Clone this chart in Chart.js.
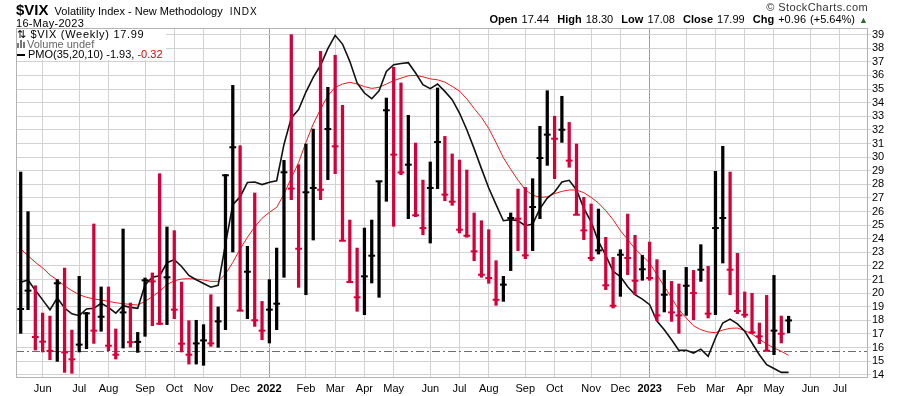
<!DOCTYPE html>
<html>
<head>
<meta charset="utf-8">
<script src="https://cdn.jsdelivr.net/npm/chart.js@4.4.0/dist/chart.umd.min.js"></script>
<style>
  html, body { margin: 0; padding: 0; background: #fff; }
  #wrap { position: relative; width: 900px; height: 396px; font-family: Arial, "Liberation Sans", sans-serif; color: #000; }
  #c { position: absolute; left: 0; top: 0; }
  .abs { position: absolute; white-space: nowrap; }
  #sym { left: 16px; top: 1px; font-size: 11px; }
  #sym b { font-size: 15px; margin-right: 3px; }
  #sym .ex { font-size: 10px; letter-spacing: 1px; margin-left: 4px; }
  #date { left: 16px; top: 17px; font-size: 11px; letter-spacing: 0.3px; }
  #copy { right: 32px; top: 1px; font-size: 11px; color: #333; letter-spacing: 0.4px; }
  #ohlc { right: 32px; top: 13px; font-size: 11px; word-spacing: 1px; }
  #ohlc .up { color: #2e6b2e; font-size: 9px; }
  #leg { left: 17px; top: 29px; font-size: 11px; background: #fff; padding: 0 3px 1px 0; }
  #leg div { line-height: 10px; height: 10px; }
  #leg1 { letter-spacing: 0.7px; }
  #leg2 { color: #666; }
  .vol { display: inline-block; width: 9px; height: 8px; position: relative; margin-right: 1px; }
  .vol i { position: absolute; bottom: 0; width: 2px; background: #777; }
  .dash { display: inline-block; width: 8px; height: 2px; background: #000; vertical-align: middle; margin-right: 3px; }
</style>
</head>
<body>
<div id="wrap">
  <canvas id="c" width="900" height="396"></canvas>
  <div class="abs" id="sym"><b>$VIX</b> Volatility Index - New Methodology <span class="ex">INDX</span></div>
  <div class="abs" id="date">16-May-2023</div>
  <div class="abs" id="copy">© StockCharts.com</div>
  <div class="abs" id="ohlc"><b>Open</b> 17.44 &nbsp;<b>High</b> 18.30 &nbsp;<b>Low</b> 17.08 &nbsp;<b>Close</b> 17.99 &nbsp;<b>Chg</b> +0.96 (+5.64%) <span class="up">▲</span></div>
  <div class="abs" id="leg">
    <div id="leg1">⇅ $VIX (Weekly) 17.99</div>
    <div id="leg2"><span class="vol"><i style="left:0;height:5px"></i><i style="left:3px;height:8px"></i><i style="left:6px;height:6px"></i></span>Volume undef</div>
    <div id="leg3"><span class="dash"></span>PMO(35,20,10) -1.93, <span style="color:#e00000">-0.32</span></div>
  </div>
</div>
<script>
// weekly bars, May 10 2021 .. May 15 2023 (index = week number)
const highs = [28.90, 25.99, 20.54, 18.53, 18.31, 20.99, 21.84, 17.28, 21.23, 18.58,
  25.08, 20.45, 20.45, 17.36, 24.71, 19.27, 17.11, 21.11, 21.48, 28.78,
  24.86, 24.59, 20.81, 17.97, 18.00, 17.68, 19.88, 18.98, 28.71, 35.27,
  30.84, 23.44, 27.36, 19.39, 20.99, 23.31, 29.76, 39.00, 29.44, 30.96,
  32.06, 37.77, 35.13, 37.48, 33.80, 25.37, 23.31, 24.78, 25.37, 28.22,
  34.34, 36.60, 35.45, 33.07, 31.03, 28.31, 29.64, 35.08, 31.52, 30.23,
  29.78, 29.05, 25.89, 25.32, 24.66, 22.38, 21.23, 25.89, 27.65, 27.77,
  28.41, 32.26, 34.88, 33.00, 34.47, 32.55, 30.96, 27.04, 26.55, 26.18,
  24.10, 22.63, 23.19, 25.81, 24.25, 22.77, 23.75, 22.46, 21.67, 20.86,
  20.67, 21.89, 21.67, 23.56, 21.97, 28.95, 30.79, 28.90, 22.92, 20.08,
  19.98, 17.80, 19.83, 21.30, 18.31, 18.30];
const lows = [17.04, 18.78, 15.81, 15.67, 15.10, 14.98, 14.17, 14.10, 15.67, 15.91,
  16.30, 17.19, 15.76, 15.15, 15.96, 16.03, 15.64, 16.82, 17.60, 17.68,
  17.68, 18.12, 15.67, 14.78, 14.78, 14.69, 16.08, 16.01, 17.31, 23.02,
  18.71, 18.12, 17.55, 16.57, 16.33, 17.31, 21.16, 26.87, 20.42, 19.88,
  23.90, 26.87, 28.34, 28.78, 23.85, 20.81, 18.66, 18.41, 20.74, 19.69,
  26.75, 24.91, 28.70, 25.47, 25.62, 24.29, 23.68, 27.68, 26.79, 26.45,
  24.42, 24.10, 22.38, 21.16, 20.72, 19.10, 19.39, 21.65, 23.12, 22.53,
  23.12, 25.47, 29.39, 28.41, 31.08, 29.25, 25.76, 23.93, 22.38, 22.87,
  20.25, 18.90, 19.76, 21.35, 19.88, 20.94, 20.94, 17.97, 18.61, 17.92,
  17.04, 18.36, 18.04, 20.86, 18.17, 18.41, 22.21, 19.88, 18.49, 18.22,
  17.01, 16.28, 15.76, 15.47, 16.33, 17.08];
const closes = [18.83, 20.18, 16.77, 16.43, 15.74, 20.72, 15.64, 15.13, 16.21, 18.51,
  17.24, 18.26, 16.13, 15.47, 18.58, 16.39, 16.41, 20.94, 20.86, 17.75,
  21.16, 18.78, 16.28, 15.47, 16.30, 16.52, 16.30, 17.92, 28.66, 30.72,
  18.71, 21.57, 18.00, 17.24, 18.78, 19.22, 28.88, 27.68, 23.26, 27.41,
  27.73, 27.60, 32.06, 30.79, 23.85, 20.81, 19.69, 21.23, 22.75, 28.22,
  33.44, 30.18, 28.87, 29.44, 25.72, 24.78, 27.73, 31.11, 27.24, 26.72,
  24.66, 24.22, 23.07, 21.35, 21.11, 19.51, 20.62, 25.52, 25.47, 22.77,
  26.33, 29.93, 31.65, 31.35, 32.01, 29.74, 25.76, 24.61, 22.58, 23.14,
  20.57, 19.07, 22.82, 22.58, 20.91, 21.75, 21.11, 18.36, 19.88, 18.58,
  18.36, 20.54, 20.00, 21.72, 18.49, 24.78, 25.52, 21.72, 18.68, 18.41,
  17.11, 16.82, 15.76, 17.24, 17.01, 17.99];

// PMO and its signal line in price units (overlay)
const pmo = [20.80, 20.96, 20.20, 19.50, 18.77, 19.64, 18.90, 18.48, 18.34, 18.83,
  18.88, 19.25, 18.95, 18.53, 19.07, 18.95, 18.88, 20.60, 21.17, 21.28,
  22.23, 22.46, 21.96, 21.30, 20.98, 20.70, 20.43, 20.57, 23.60, 26.50,
  27.07, 28.13, 28.17, 27.98, 28.15, 28.26, 30.93, 32.88, 33.50, 34.78,
  35.86, 36.75, 37.97, 38.95, 38.31, 37.04, 35.45, 34.71, 34.29, 34.88,
  36.30, 36.79, 36.88, 36.94, 36.18, 35.32, 35.03, 35.37, 34.83, 34.22,
  33.24, 32.01, 30.62, 29.15, 27.73, 26.50, 25.32, 25.40, 25.32, 24.95,
  25.08, 26.21, 26.99, 27.43, 28.17, 28.29, 27.58, 26.23, 25.23, 23.80,
  22.77, 21.60, 21.21, 20.47, 19.88, 19.56, 19.15, 17.95, 17.31, 16.57,
  15.79, 15.79, 15.59, 15.88, 15.35, 16.70, 17.80, 18.09, 17.73, 17.19,
  16.33, 15.47, 14.74, 14.45, 14.17, 14.17];
const signal = [23.24, 22.75, 22.26, 21.85, 21.33, 20.96, 20.54, 20.18, 19.88, 19.69,
  19.57, 19.49, 19.39, 19.29, 19.22, 19.17, 19.12, 19.39, 19.74, 20.13,
  20.62, 20.91, 21.03, 21.06, 21.03, 20.96, 20.86, 20.86, 21.40, 22.26,
  23.24, 24.10, 24.86, 25.50, 25.94, 26.30, 27.28, 28.45, 29.60, 31.08,
  32.43, 33.53, 34.51, 35.13, 35.37, 35.50, 35.37, 35.18, 35.05, 35.13,
  35.37, 35.62, 35.80, 35.98, 36.00, 35.90, 35.75, 35.68, 35.51, 35.20,
  34.85, 34.28, 33.57, 32.92, 32.10, 31.06, 29.95, 29.10, 28.30, 27.60,
  27.20, 27.04, 27.08, 27.31, 27.48, 27.58, 27.58, 27.38, 27.04, 26.62,
  26.06, 25.40, 24.59, 23.93, 23.26, 22.73, 22.21, 21.35, 20.50, 19.64,
  18.78, 18.17, 17.60, 17.31, 17.14, 17.09, 17.28, 17.41, 17.43, 17.24,
  16.99, 16.62, 16.25, 15.96, 15.72, 15.42];

const refLevel = 15.74;   // dash-dot horizontal line

const monthIdx = [3, 8, 12, 17, 21, 25, 30, 34, 39, 43, 47, 51, 56, 60, 64, 69, 73, 78, 82, 86, 91, 95, 99, 103, 108, 112];
const monthLabels = ['Jun', 'Jul', 'Aug', 'Sep', 'Oct', 'Nov', 'Dec', '2022', 'Feb', 'Mar', 'Apr', 'May',
  'Jun', 'Jul', 'Aug', 'Sep', 'Oct', 'Nov', 'Dec', '2023', 'Feb', 'Mar', 'Apr', 'May', 'Jun', 'Jul'];
const yearIdx = [34, 86];
const yTicks = [14, 15, 16, 17, 18, 19, 20, 21, 22, 23, 24, 25, 26, 27, 28, 29, 30, 31, 32, 33, 34, 35, 36, 37, 38, 39];

const upColor = '#000000';
const downColor = '#d4003a';
const barColors = closes.map((c, i) => (i === 0 || c >= closes[i - 1]) ? upColor : downColor);

const frame = {
  id: 'frame',
  beforeDatasetsDraw(c) {
    const { ctx, chartArea: a } = c;
    const y = Math.round(c.scales.y.getPixelForValue(refLevel)) + 0.5;
    ctx.save();
    ctx.strokeStyle = '#6e6e6e';
    ctx.lineWidth = 1;
    ctx.setLineDash([8, 3, 2, 3]);
    ctx.beginPath();
    ctx.moveTo(a.left, y);
    ctx.lineTo(a.right, y);
    ctx.stroke();
    ctx.restore();
  },
  afterDraw(c) {
    const { ctx, chartArea: a } = c;
    ctx.save();
    ctx.strokeStyle = '#b4b4b4';
    ctx.lineWidth = 1;
    ctx.strokeRect(Math.round(a.left) + 0.5, Math.round(a.top) + 0.5, Math.round(a.right - a.left), Math.round(a.bottom - a.top));
    ctx.restore();
  }
};

new Chart(document.getElementById('c'), {
  type: 'bar',
  data: {
    datasets: [
      {
        type: 'scatter',
        data: closes.map((v, i) => ({ x: i, y: v })),
        pointStyle: 'line',
        pointRadius: 3.4,
        pointBorderWidth: 2,
        pointBorderColor: barColors,
        pointBackgroundColor: barColors,
        order: 1
      },
      {
        type: 'bar',
        data: highs.map((h, i) => ({ x: i, y: [lows[i], h] })),
        backgroundColor: barColors,
        barThickness: 2.6,
        grouped: false,
        order: 2
      },
      {
        type: 'line',
        data: pmo.map((v, i) => ({ x: i, y: v })),
        borderColor: '#111111',
        borderWidth: 1.6,
        pointRadius: 0,
        tension: 0,
        order: 3
      },
      {
        type: 'line',
        data: signal.map((v, i) => ({ x: i, y: v })),
        borderColor: '#f21818',
        borderWidth: 1,
        pointRadius: 0,
        tension: 0,
        order: 4
      }
    ]
  },
  options: {
    responsive: false,
    animation: false,
    devicePixelRatio: 1,
    layout: { padding: { left: 16, top: 28, right: 0, bottom: 0 } },
    plugins: { legend: { display: false }, tooltip: { enabled: false } },
    scales: {
      x: {
        type: 'linear',
        min: -0.643,
        max: 115.72,
        offset: false,
        afterBuildTicks: (s) => { s.ticks = monthIdx.map((v) => ({ value: v })); },
        afterFit: (s) => { s.height = 19; },
        grid: {
          offset: false,
          drawTicks: false,
          color: (c) => (c.tick && yearIdx.includes(c.tick.value)) ? '#9c9c9c' : '#d2d2d2'
        },
        border: { color: '#b4b4b4' },
        ticks: {
          autoSkip: false,
          maxRotation: 0,
          padding: 5,
          color: '#000',
          font: (c) => ({
            family: 'Arial, "Liberation Sans", sans-serif',
            size: 11,
            weight: (c.tick && yearIdx.includes(c.tick.value)) ? 'bold' : 'normal'
          }),
          callback: (v) => monthLabels[monthIdx.indexOf(v)]
        }
      },
      y: {
        position: 'right',
        min: 13.83,
        max: 39.49,
        afterBuildTicks: (s) => { s.ticks = yTicks.map((v) => ({ value: v })); },
        afterFit: (s) => { s.width = 33; },
        grid: { color: '#d2d2d2', tickLength: 4 },
        border: { color: '#b4b4b4' },
        ticks: {
          autoSkip: false,
          padding: 1,
          color: '#000',
          font: { family: 'Arial, "Liberation Sans", sans-serif', size: 11 },
          callback: (v) => String(v)
        }
      }
    }
  },
  plugins: [frame]
});
</script>
</body>
</html>
